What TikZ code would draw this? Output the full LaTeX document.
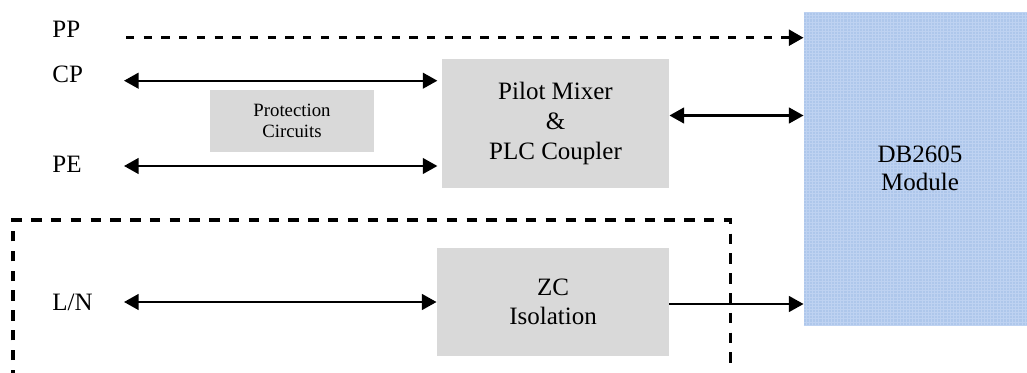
\documentclass[tikz,border=0pt]{standalone}
\usepackage{fontspec}
\setmainfont{Liberation Serif}
\usetikzlibrary{calc,arrows.meta}

\definecolor{boxgrey}{RGB}{217,217,217}
\definecolor{modblue}{RGB}{174,199,235}
\definecolor{modgrid}{RGB}{190,210,241}

\tikzset{
  block/.style={fill=boxgrey, align=center, inner sep=0pt,
    font=\fontsize{12}{14.2}\selectfont},
  smallblock/.style={block, font=\fontsize{9}{10}\selectfont},
  lbl/.style={inner sep=0pt, font=\fontsize{12}{14.2}\selectfont},
  sig/.style={line width=1.1pt, -{Triangle[length=7pt,width=7.5pt]}},
  bisig/.style={line width=1.1pt, {Triangle[length=7pt,width=7.5pt]}-{Triangle[length=7pt,width=7.5pt]}},
  dashsig/.style={line width=1.45pt, dash pattern=on 4pt off 4.5pt, -{Triangle[length=7pt,width=7.5pt]}}
}

\begin{document}
\begin{tikzpicture}[x=0.48pt,y=-0.48pt]
  \useasboundingbox (0,0) rectangle (1027,372);

  %% Blocks
  \node[block, minimum width=109pt, minimum height=62pt] (mixer) at (555.5,123.5)
    {Pilot Mixer\\\&\\PLC Coupler};
  \node[smallblock, minimum width=78.7pt, minimum height=29.8pt] (prot) at (292,121)
    {Protection\\Circuits};
  \node[block, minimum width=111.4pt, minimum height=51.8pt] (zc) at (553,302)
    {ZC\\Isolation};
  \node[block, fill=modblue, minimum width=111.4pt, minimum height=150.2pt] (module) at (920,168.5) {};
  \draw[modgrid, line width=0.3pt, step=1.5pt] (module.north west) grid (module.south east);
  \node[lbl, align=center, font=\fontsize{12}{13.6}\selectfont] (modtext) at (module.center)
    {DB2605\\Module};

  %% Signal names
  \node[lbl, anchor=base west] (lblPP) at (52,38)  {PP};
  \node[lbl, anchor=base west] (lblCP) at (52,83)  {CP};
  \node[lbl, anchor=base west] (lblPE) at (52,172) {PE};
  \node[lbl, anchor=base west] (lblLN) at (52,310) {L/N};

  %% Free ends of the connectors
  \coordinate (ppL) at (126,37.7);
  \coordinate (cpL) at (124,80.7);
  \coordinate (peL) at (124,166);
  \coordinate (lnL) at (124,302);
  \coordinate (mixR) at ($(mixer.east)+(0,-8)$);
  \coordinate (zcR) at ($(zc.east)+(0,2)$);

  %% Connectors
  \draw[dashsig] (ppL) -- (ppL -| module.west);
  \foreach \src/\dst/\gap in {cpL/mixer/2pt,peL/mixer/2pt,lnL/zc/0pt}
  {
    \draw[bisig, shorten >=\gap] (\src) -- (\src -| \dst.west);
  }
  \draw[bisig] (mixR) -- (mixR -| module.west);
  \draw[sig] (zcR) -- (zcR -| module.west);

  %% Isolated area
  \draw[line width=1.45pt, dash pattern=on 5pt off 4.5pt]
    (13,380) -- (13,220) -- (730,220) -- (730,365);
\end{tikzpicture}
\end{document}
